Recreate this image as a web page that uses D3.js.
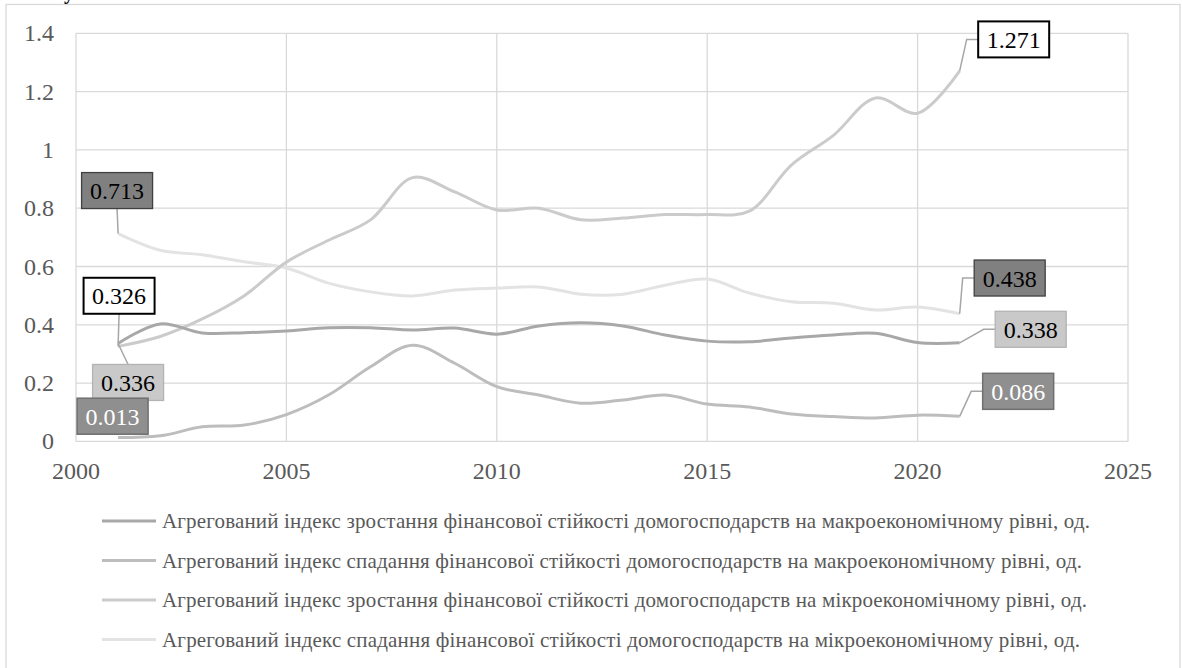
<!DOCTYPE html>
<html>
<head>
<meta charset="utf-8">
<script src="https://cdn.jsdelivr.net/npm/d3@7"></script>
</head>
<body style="margin:0">
<svg id="chart" width="1182" height="668"></svg>
<script>
// data
const years = d3.range(2001, 2022);
const macroGrowth = [0.336, 0.403, 0.372, 0.373, 0.379, 0.390, 0.390, 0.382, 0.389, 0.368, 0.396, 0.407, 0.396, 0.365, 0.344, 0.342, 0.355, 0.365, 0.371, 0.339, 0.338];
const macroDecline = [0.013, 0.019, 0.050, 0.056, 0.092, 0.159, 0.256, 0.330, 0.268, 0.188, 0.159, 0.131, 0.142, 0.159, 0.128, 0.118, 0.094, 0.085, 0.080, 0.090, 0.086];
const microGrowth = [0.326, 0.360, 0.420, 0.500, 0.615, 0.690, 0.760, 0.905, 0.856, 0.794, 0.800, 0.760, 0.766, 0.778, 0.778, 0.790, 0.948, 1.050, 1.178, 1.126, 1.271];
const microDecline = [0.713, 0.656, 0.640, 0.616, 0.595, 0.543, 0.513, 0.499, 0.519, 0.526, 0.530, 0.505, 0.505, 0.536, 0.557, 0.509, 0.479, 0.474, 0.451, 0.461, 0.438];
const seriesNames = [
  "Агрегований індекс зростання фінансової стійкості домогосподарств на макроекономічному рівні, од.",
  "Агрегований індекс спадання фінансової стійкості домогосподарств на макроекономічному рівні, од.",
  "Агрегований індекс зростання фінансової стійкості домогосподарств на мікроекономічному рівні, од.",
  "Агрегований індекс спадання фінансової стійкості домогосподарств на мікроекономічному рівні, од."
];
const xTicks = [2000, 2005, 2010, 2015, 2020, 2025];
const yTicks = [0, 0.2, 0.4, 0.6, 0.8, 1, 1.2, 1.4];

const svg = d3.select("#chart");
const margin = {left: 76, right: 1128, top: 33.3, bottom: 441.4};

// text helper: serif font on every text element
const txt = (g) => g.append("text").attr("font-family", "Liberation Serif")
  .style("font-family", '"Liberation Serif", serif');

// outer frame + cut-off title glyph
svg.append("rect").attr("x", 6).attr("y", 4.5).attr("width", 1174).attr("height", 670)
  .attr("fill", "#fff").attr("stroke", "#d9d9d9").attr("stroke-width", 1.3);
txt(svg).attr("x", 64).attr("y", -1).attr("font-size", 20).attr("font-weight", "bold").text("у");

const x = d3.scaleLinear().domain([2000, 2025]).range([margin.left, margin.right]);
const y = d3.scaleLinear().domain([0, 1.4]).range([margin.bottom, margin.top]);

// grid
svg.append("g").selectAll("line").data(yTicks).join("line")
  .attr("x1", margin.left).attr("x2", margin.right)
  .attr("y1", d => y(d)).attr("y2", d => y(d))
  .attr("stroke", "#d9d9d9").attr("stroke-width", 1.3);
svg.append("g").selectAll("line").data(xTicks).join("line")
  .attr("x1", d => x(d)).attr("x2", d => x(d))
  .attr("y1", margin.top).attr("y2", margin.bottom)
  .attr("stroke", "#d9d9d9").attr("stroke-width", 1.3);

// tick labels
yTicks.forEach(d => {
  txt(svg).attr("x", 54).attr("y", y(d) + 8).attr("text-anchor", "end")
    .attr("font-size", 24).attr("fill", "#595959").text(d);
});
xTicks.forEach(d => {
  txt(svg).attr("x", x(d)).attr("y", 479).attr("text-anchor", "middle")
    .attr("font-size", 24).attr("fill", "#595959").text(d);
});

// series
const series = [
  {values: macroGrowth, color: "#a8a8a8", box: {fill: "#c9c9c9", stroke: "#b3b3b3", sw: 1.3, text: "#000"}},
  {values: macroDecline, color: "#bdbdbd", box: {fill: "#8f8f8f", stroke: "#6f6f6f", sw: 1.5, text: "#fff"}},
  {values: microGrowth, color: "#cbcbcb", box: {fill: "#fff", stroke: "#000", sw: 2, text: "#000"}},
  {values: microDecline, color: "#e3e3e3", box: {fill: "#808080", stroke: "#404040", sw: 1.3, text: "#000"}}
];

const line = d3.line().x((d, i) => x(years[i])).y(d => y(d)).curve(d3.curveCatmullRom.alpha(0.5));

[3, 2, 1, 0].forEach(k => {
  svg.append("path").attr("d", line(series[k].values))
    .attr("fill", "none").attr("stroke", series[k].color).attr("stroke-width", 3)
    .attr("stroke-linejoin", "round");
});

// data labels: [series, index, box offset dx, dy, leader type]
const labels = [
  [3, 0, -1, -43, "up"],
  [2, 0, 1, -50.6, "up"],
  [0, 0, 10, 39, "down"],
  [1, 0, -5.5, -21.4, "none"],
  [2, 20, 54, -31.5, "right"],
  [3, 20, 50, -35.7, "right"],
  [0, 20, 71, -13.6, "right"],
  [1, 20, 58.5, -25, "right"]
];
const bw = 71, bh = 36;
labels.forEach(([k, i, dx, dy, type]) => {
  const s = series[k];
  const px = x(years[i]), py = y(s.values[i]);
  const cx = px + dx, cy = py + dy;
  let pts = [];
  if (type === "up") pts = [[px, py], [cx, cy + bh / 2]];
  if (type === "down") pts = [[px, py], [cx, cy - bh / 2]];
  if (type === "right") pts = [[px, py], [cx - bw / 2 - 11.5, cy], [cx - bw / 2, cy]];
  if (pts.length) {
    svg.append("path").attr("d", d3.line()(pts)).attr("fill", "none")
      .attr("stroke", "#a6a6a6").attr("stroke-width", 1.5);
  }
  svg.append("rect").attr("x", cx - bw / 2).attr("y", cy - bh / 2).attr("width", bw).attr("height", bh)
    .attr("fill", s.box.fill).attr("stroke", s.box.stroke).attr("stroke-width", s.box.sw);
  txt(svg).attr("x", cx).attr("y", cy + 8.5).attr("text-anchor", "middle")
    .attr("font-size", 24).attr("fill", s.box.text).text(s.values[i]);
});

// legend
const legendY = [521, 560.5, 600, 639.5];
const legendWidth = [928, 920, 925, 918];
seriesNames.forEach((name, k) => {
  svg.append("line").attr("x1", 102).attr("x2", 156).attr("y1", legendY[k]).attr("y2", legendY[k])
    .attr("stroke", series[k].color).attr("stroke-width", 3);
  txt(svg).attr("x", 162).attr("y", legendY[k] + 7).attr("font-size", 21)
    .attr("fill", "#595959")
    .attr("textLength", legendWidth[k]).attr("lengthAdjust", "spacing")
    .text(name);
});
</script>
</body>
</html>
